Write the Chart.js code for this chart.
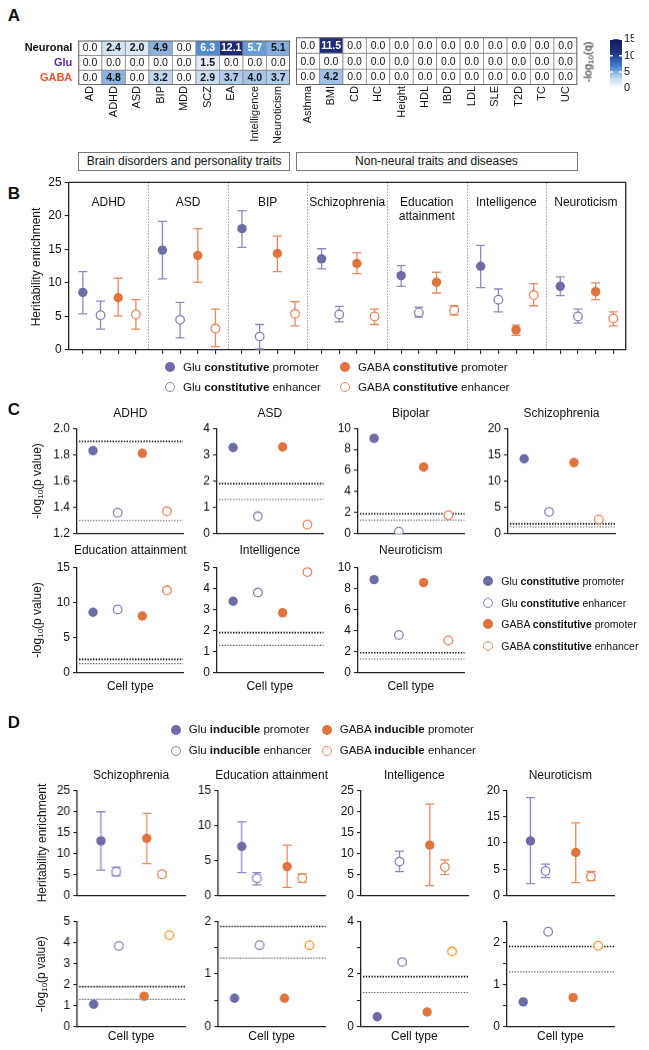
<!DOCTYPE html>
<html><head><meta charset="utf-8">
<script src="https://cdn.jsdelivr.net/npm/chart.js@4.4.1/dist/chart.umd.min.js"></script>
<style>
body{margin:0;width:649px;height:1050px;position:relative;background:#fff;font-family:'Liberation Sans',Arial,Helvetica,sans-serif;color:#111;overflow:hidden}
.t{position:absolute;white-space:nowrap;transform:translate(-50%,-50%);font-size:12px;line-height:1}
.lt{position:absolute;white-space:nowrap;transform:translate(0,-50%);font-size:12px;line-height:1}
.rot{position:absolute;white-space:nowrap;transform:translate(-50%,-50%) rotate(-90deg);font-size:12px;line-height:1}
.pl{position:absolute;font-weight:bold;font-size:17px;transform:translate(-50%,-50%);line-height:1}
.dot{position:absolute;border-radius:50%;transform:translate(-50%,-50%);box-sizing:border-box}
.gbox{position:absolute;border:1px solid #7a7a7a;box-sizing:border-box;font-size:12px;display:flex;align-items:center;justify-content:center;white-space:nowrap;background:#fff}
.sb{font-size:8px;position:relative;top:2px}
</style></head><body>
<script>
// ================= DATA =================
// Panel A heatmap (-log10 q)
const heatTraits = ['AD','ADHD','ASD','BIP','MDD','SCZ','EA','Intelligence','Neuroticism','Asthma','BMI','CD','HC','Height','HDL','IBD','LDL','SLE','T2D','TC','UC'];
const brainCount = 9;
const heatRows = ['Neuronal','Glu','GABA'];
const neuronalQ = [0.0,2.4,2.0,4.9,0.0,6.3,12.1,5.7,5.1, 0.0,11.5,0.0,0.0,0.0,0.0,0.0,0.0,0.0,0.0,0.0,0.0];
const gluQ      = [0.0,0.0,0.0,0.0,0.0,1.5,0.0,0.0,0.0, 0.0,0.0,0.0,0.0,0.0,0.0,0.0,0.0,0.0,0.0,0.0,0.0];
const gabaQ     = [0.0,4.8,0.0,3.2,0.0,2.9,3.7,4.0,3.7, 0.0,4.2,0.0,0.0,0.0,0.0,0.0,0.0,0.0,0.0,0.0,0.0];
const groupNames = ['Brain disorders and personality traits','Non-neural traits and diseases'];
const qTicks = [0,5,10,15];

// Panel B heritability enrichment (constitutive)
const bTraits = ['ADHD','ASD','BIP','Schizophrenia',['Education','attainment'],'Intelligence','Neuroticism'];
const bGluProm   = [8.6,14.9,18.1,13.6,11.1,12.5,9.5];
const bGluPromLo = [5.4,10.6,15.3,12.1,9.5,9.3,8.1];
const bGluPromHi = [11.7,19.2,20.8,15.1,12.6,15.6,10.9];
const bGluEnh    = [5.2,4.5,2.0,5.3,5.6,7.5,5.0];
const bGluEnhLo  = [3.1,1.8,0.15,4.2,4.9,5.7,4.0];
const bGluEnhHi  = [7.3,7.1,3.8,6.5,6.4,9.1,6.1];
const bGabaProm  = [7.8,14.1,14.4,12.9,10.1,3.0,8.7];
const bGabaPromLo= [5.1,10.1,11.7,11.4,8.5,2.2,7.5];
const bGabaPromHi= [10.7,18.1,17.0,14.5,11.6,3.7,10.0];
const bGabaEnh   = [5.3,3.2,5.4,5.0,5.9,8.2,4.7];
const bGabaEnhLo = [3.1,0.5,3.6,3.8,5.2,6.6,3.6];
const bGabaEnhHi = [7.5,6.1,7.2,6.1,6.6,9.9,5.7];

// Panel C -log10(p) (constitutive)
const cTraits = ['ADHD','ASD','Bipolar','Schizophrenia','Education attainment','Intelligence','Neuroticism'];
const cGluProm  = [1.83,3.27,9.05,14.2,8.6,3.39,8.82];
const cGluEnh   = [1.36,0.66,0.2,4.15,9.0,3.8,3.59];
const cGabaProm = [1.81,3.29,6.32,13.5,8.07,2.84,8.54];
const cGabaEnh  = [1.37,0.35,1.75,2.7,11.72,4.77,3.06];
const cYMin  = [1.2,0,0,0,0,0,0];
const cYMax  = [2.0,4,10,20,15,5,10];
const cYStep = [0.2,1,2,5,5,1,2];
const sigLines = [1.3,1.9];

// Panel D (inducible)
const dTraits = ['Schizophrenia','Education attainment','Intelligence','Neuroticism'];
const dGluProm   = [13.0,7.0,null,10.4];
const dGluPromLo = [6.1,3.3,null,2.3];
const dGluPromHi = [19.9,10.5,null,18.6];
const dGluEnh    = [5.7,2.5,8.1,4.7];
const dGluEnhLo  = [4.7,1.55,5.7,3.45];
const dGluEnhHi  = [6.8,3.3,10.6,6.0];
const dGabaProm  = [13.6,4.15,12.0,8.2];
const dGabaPromLo= [7.6,1.2,2.4,2.5];
const dGabaPromHi= [19.5,7.2,21.7,13.8];
const dGabaEnh   = [5.1,2.5,6.8,3.65];
const dGabaEnhLo = [4.5,1.9,5.0,2.9];
const dGabaEnhHi = [5.8,3.1,8.5,4.6];
const dTopMax = [25,15,25,20];
const dPGluProm  = [1.07,0.54,0.38,0.59];
const dPGluEnh   = [3.83,1.545,2.45,2.25];
const dPGabaProm = [1.45,0.54,0.56,0.69];
const dPGabaEnh  = [4.34,1.545,2.85,1.92];
const dPMax = [5,2,4,2.5];
const dPStep = [1,0.5,1,0.5];
const dPLabelStep = [1,1,2,1];

// ================= STYLE =================
const FONT = "'Liberation Sans', Arial, Helvetica, sans-serif";
const GLU='#6c6ca6', GLU_L='#8282bc', GABA='#e0743e', GABA_L='#e9865b', GABA_Y='#f39a2e';
const SERIES = [
  {cell:'Glu', kind:'promoter', filled:true,  color:GLU,    err:'#8a8ac2'},
  {cell:'Glu', kind:'enhancer', filled:false, color:GLU_L,  err:'#8a8ac2'},
  {cell:'GABA',kind:'promoter', filled:true,  color:GABA,   err:'#e88a60'},
  {cell:'GABA',kind:'enhancer', filled:false, color:GABA_L, err:'#e88a60'}
];
const rowColors = ['#111','#5b2a96','#f0532a'];
const qStops = [[0,'#ffffff'],[3,'#c6dbf2'],[5,'#86b0e0'],[6.5,'#4686d0'],[9,'#2b55a8'],[11,'#20307f'],[15,'#151a5e']];

function hex2rgb(h){return [1,3,5].map(i=>parseInt(h.substr(i,2),16));}
function qColor(v){
  for(let i=1;i<qStops.length;i++){
    if(v<=qStops[i][0]){
      const [v0,c0]=qStops[i-1],[v1,c1]=qStops[i];
      const f=(v-v0)/(v1-v0), a=hex2rgb(c0), b=hex2rgb(c1);
      return 'rgb('+a.map((x,k)=>Math.round(x+(b[k]-x)*f)).join(',')+')';
    }
  }
  return qStops[qStops.length-1][1];
}

Chart.defaults.font.family = FONT;
Chart.defaults.font.size = 12;
Chart.defaults.color = '#111';
Chart.defaults.animation = false;
Chart.defaults.events = [];
Chart.defaults.plugins.legend.display = false;
Chart.defaults.plugins.tooltip.enabled = false;

function popt(ch,id){const p=ch.config.options.plugins;return p&&p[id];}

const errPlugin={id:'errbars',beforeDatasetsDraw(ch){
  const c=ch.ctx,x=ch.scales.x,y=ch.scales.y;
  ch.data.datasets.forEach(ds=>{
    if(!ds.lo) return;
    c.save();c.strokeStyle=ds.errColor;c.lineWidth=1.3;
    ds.data.forEach((p,j)=>{
      if(!p||p.y==null||ds.lo[j]==null) return;
      const px=x.getPixelForValue(p.x),y1=y.getPixelForValue(ds.lo[j]),y2=y.getPixelForValue(ds.hi[j]);
      c.beginPath();c.moveTo(px,y1);c.lineTo(px,y2);
      c.moveTo(px-4.5,y1);c.lineTo(px+4.5,y1);c.moveTo(px-4.5,y2);c.lineTo(px+4.5,y2);c.stroke();
    });
    c.restore();
  });
}};
const sigPlugin={id:'sig',beforeDatasetsDraw(ch){
  const o=popt(ch,'sig'); if(!o||!o.lines) return;
  const c=ch.ctx,y=ch.scales.y,ca=ch.chartArea;
  c.save();
  o.lines.forEach((v,i)=>{
    const py=y.getPixelForValue(v);
    c.strokeStyle=i?'#111':'#666';c.lineWidth=i?1.6:1.1;c.setLineDash([1.4,1.4]);
    c.beginPath();c.moveTo(ca.left+2,py);c.lineTo(ca.right,py);c.stroke();
  });
  c.restore();
}};
const framePlugin={id:'frame',
  beforeDatasetsDraw(ch){
    const o=popt(ch,'frame'); if(!o||!o.titles) return;
    const c=ch.ctx,ca=ch.chartArea,x=ch.scales.x;
    c.save();c.strokeStyle='#9a9a9a';c.lineWidth=1;c.setLineDash([1.5,1.5]);
    for(let g=1;g<o.titles.length;g++){
      const px=Math.round(x.getPixelForValue(g*o.groupW))+0.5;
      c.beginPath();c.moveTo(px,ca.top);c.lineTo(px,ca.bottom);c.stroke();
    }
    c.restore();
  },
  afterDraw(ch){
    const o=popt(ch,'frame'); if(!o||!o.titles) return;
    const c=ch.ctx,ca=ch.chartArea,x=ch.scales.x;
    c.save();c.strokeStyle='#222';c.lineWidth=1.3;
    c.beginPath();c.moveTo(ca.left,ca.top);c.lineTo(ca.right,ca.top);c.lineTo(ca.right,ca.bottom);c.stroke();
    c.fillStyle='#111';c.font='12px '+FONT;c.textAlign='center';c.textBaseline='middle';
    o.titles.forEach((t,g)=>{
      const cx=x.getPixelForValue((g+0.5)*o.groupW);
      [].concat(t).forEach((ln,k)=>c.fillText(ln,cx,ca.top+20+k*14.5));
    });
    c.restore();
  }
};
const cellTextPlugin={id:'cellText',afterDatasetsDraw(ch){
  const o=popt(ch,'cellText'); if(!o||!o.on) return;
  const c=ch.ctx;
  c.save();
  c.strokeStyle='#6a6a6a';c.lineWidth=1;
  const ca=ch.chartArea;c.strokeRect(ca.left+0.5,ca.top+0.5,ca.right-ca.left-1,ca.bottom-ca.top-1);
  c.textAlign='center';c.textBaseline='middle';
  ch.data.datasets.forEach((ds,i)=>{
    ch.getDatasetMeta(i).data.forEach((el,j)=>{
      const v=ds.vals[j];
      c.font=(v>0?'bold ':'')+'10.5px '+FONT;
      c.fillStyle=v>5.5?'#fff':'#111';
      c.fillText(v.toFixed(1),el.x,(el.y+el.base)/2+0.5);
    });
  });
  c.restore();
}};
const cbPlugin={id:'cbMarks',afterDatasetsDraw(ch){
  const o=popt(ch,'cbMarks'); if(!o||!o.on) return;
  const c=ch.ctx,ca=ch.chartArea,y=ch.scales.y;
  c.save();c.strokeStyle='#fff';c.lineWidth=1.5;
  y.ticks.forEach(t=>{ if(t.value<=0) return; const py=y.getPixelForValue(t.value);
    c.beginPath();c.moveTo(ca.left,py);c.lineTo(ca.left+3,py);c.moveTo(ca.right-3,py);c.lineTo(ca.right,py);c.stroke();});
  c.restore();
}};
Chart.register(errPlugin,sigPlugin,framePlugin,cellTextPlugin,cbPlugin);

function mk(box,area,cfg){
  const [bx,by,bw,bh]=box;
  const div=document.createElement('div');
  div.style.cssText=`position:absolute;left:${bx}px;top:${by}px;width:${bw}px;height:${bh}px;`;
  const cv=document.createElement('canvas');cv.width=bw;cv.height=bh;cv.style.width=bw+'px';cv.style.height=bh+'px';
  div.appendChild(cv);document.body.appendChild(div);
  cfg.options=cfg.options||{};
  Object.assign(cfg.options,{responsive:false,maintainAspectRatio:false,animation:false});
  const P={left:0,top:0,right:0,bottom:0};
  cfg.options.layout={padding:{...P}};
  const ch=new Chart(cv,cfg);
  const tl=area[0]-bx,tt=area[1]-by,tr=area[2]-bx,tb=area[3]-by;
  for(let k=0;k<4;k++){
    const ca=ch.chartArea;
    P.left+=tl-ca.left;P.top+=tt-ca.top;P.right+=ca.right-tr;P.bottom+=ca.bottom-tb;
    ch.config.options.layout.padding={...P};
    ch.update('none');
  }
  return ch;
}
function txt(cls,x,y,html,extra){
  const d=document.createElement('div');d.className=cls;d.style.left=x+'px';d.style.top=y+'px';d.innerHTML=html;
  if(extra) Object.assign(d.style,extra);
  document.body.appendChild(d);return d;
}
function yAx(min,max,step,cb){
  const a={type:'linear',min,max,ticks:{stepSize:step,font:{size:12},color:'#111',padding:3,autoSkip:false},
    grid:{drawOnChartArea:false,tickLength:4,color:'#222',lineWidth:1.1},border:{color:'#222',width:1.3}};
  if(cb) a.ticks.callback=cb;
  return a;
}
function xPlain(min,max){return {type:'linear',min,max,ticks:{display:false},grid:{display:false},border:{color:'#222',width:1.3}};}
function ptDs(s,data,lo,hi,colorOverride){
  const st=SERIES[s],col=colorOverride||st.color;
  return {data,lo,hi,errColor:st.err,showLine:false,
    pointRadius:st.filled?4.7:4.3,pointHoverRadius:0,
    pointBackgroundColor:st.filled?col:'#fff',pointBorderColor:col,pointBorderWidth:st.filled?0:1.3};
}
function legendItem(cx,cy,s,html,fs){
  const st=SERIES[s],col=st.color;
  const d=document.createElement('div');d.className='dot';
  d.style.left=cx+'px';d.style.top=cy+'px';d.style.width='10px';d.style.height='10px';
  if(st.filled){d.style.background=col;}
  else{d.style.background='#fff';d.style.border='1.3px solid '+col;}
  document.body.appendChild(d);
  txt('lt',cx+13,cy,html,{fontSize:fs+'px'});
}
const logLabel=(q)=>`-log<span class="sb">10</span>(${q})`;

// ================= PANEL A =================
txt('pl',14,15,'A');
function heatChart(box,area,from,to,showRows){
  const labels=heatTraits.slice(from,to);
  const rowVals=[neuronalQ,gluQ,gabaQ].map(a=>a.slice(from,to));
  return mk(box,area,{type:'bar',
    data:{labels,datasets:rowVals.map((vals,r)=>({label:heatRows[r],data:vals.map(()=>[r,r+1]),vals,
      backgroundColor:vals.map(qColor),borderColor:'#8c8c8c',borderWidth:0.8,borderSkipped:false,
      grouped:false,barPercentage:1,categoryPercentage:1}))},
    options:{plugins:{cellText:{on:true}},scales:{
      x:{ticks:{maxRotation:90,minRotation:90,autoSkip:false,font:{size:11},color:'#111',padding:1},grid:{display:false,drawTicks:false},border:{display:false}},
      y:{type:'linear',min:0,max:3,reverse:true,display:showRows,
        afterBuildTicks:s=>{s.ticks=heatRows.map((_,i)=>({value:i+0.5}));},
        ticks:{callback:v=>heatRows[Math.floor(v)],color:c=>rowColors[c.index],font:{size:11,weight:'bold'},padding:6},
        grid:{display:false,drawTicks:false},border:{display:false}}
    }}});
}
heatChart([0,28,300,124],[78.3,37.3,290,85],0,brainCount,true);
heatChart([290,28,300,124],[296,37.3,577.3,85],brainCount,heatTraits.length,false);
// colour bar
mk([596,25,52,80],[610,39.3,621.7,88.3],{type:'bar',
  data:{labels:[''],datasets:[{data:[[qTicks[0],qTicks[qTicks.length-1]]],borderWidth:0,barPercentage:1,categoryPercentage:1,
    backgroundColor:c=>{const ch=c.chart,y=ch.scales.y;if(!y||!ch.chartArea) return '#ccc';
      const top=qTicks[qTicks.length-1];
      const g=ch.ctx.createLinearGradient(0,y.getPixelForValue(0),0,y.getPixelForValue(top));
      qStops.forEach(([v,col])=>g.addColorStop(v/top,col));return g;}}]},
  options:{plugins:{cbMarks:{on:true}},scales:{x:{display:false},
    y:{position:'right',min:qTicks[0],max:qTicks[qTicks.length-1],afterBuildTicks:s=>{s.ticks=qTicks.map(v=>({value:v}));},
      ticks:{font:{size:11},padding:2,color:'#111'},grid:{display:false,drawTicks:false,tickLength:0},border:{display:false}}}}});
txt('rot',588,62,logLabel('q'),{fontSize:'11px'});
// group boxes
const gb1=txt('gbox',78.3,151.7,groupNames[0]);Object.assign(gb1.style,{width:'211.7px',height:'19px'});
const gb2=txt('gbox',295.5,151.7,groupNames[1]);Object.assign(gb2.style,{width:'282px',height:'19px'});

// ================= PANEL B =================
txt('pl',14,193,'B');
const bGroupW=4.5, bOff=0.8;
const bSets=[[bGluProm,bGluPromLo,bGluPromHi],[bGluEnh,bGluEnhLo,bGluEnhHi],[bGabaProm,bGabaPromLo,bGabaPromHi],[bGabaEnh,bGabaEnhLo,bGabaEnhHi]];
const bPos=[];bTraits.forEach((_,g)=>SERIES.forEach((_,s)=>bPos.push(g*bGroupW+bOff+s)));
mk([0,170,645,200],[68.7,183.3,625.7,350],{type:'scatter',
  data:{datasets:bSets.map(([v,lo,hi],s)=>ptDs(s,v.map((y,g)=>({x:g*bGroupW+bOff+s,y})),lo,hi))},
  options:{plugins:{frame:{titles:bTraits,groupW:bGroupW}},scales:{
    x:{type:'linear',min:0,max:bTraits.length*bGroupW,afterBuildTicks:s=>{s.ticks=bPos.map(v=>({value:v}));},
      ticks:{callback:()=>'',autoSkip:false,padding:0},grid:{drawOnChartArea:false,tickLength:4,color:'#222',lineWidth:1.1},border:{color:'#222',width:1.3}},
    y:yAx(0,25,5)}}});
txt('rot',36,266.7,'Heritability enrichment');
legendItem(170,366.5,0,'Glu <b>constitutive</b> promoter',11.6);
legendItem(345,366.5,2,'GABA <b>constitutive</b> promoter',11.6);
legendItem(170,386.7,1,'Glu <b>constitutive</b> enhancer',11.6);
legendItem(345,386.7,3,'GABA <b>constitutive</b> enhancer',11.6);

// ================= PANEL C =================
txt('pl',14,409.3,'C');
const cCols=[[77.3,183.3],[216.5,323],[357.5,464],[508,615]];
const cRows=[[428.3,534.3],[566.7,673.3]];
const cTitleY=[413.3,550];
const cVals=[cGluProm,cGluEnh,cGabaProm,cGabaEnh];
cTraits.forEach((t,k)=>{
  const row=k<4?0:1,col=k<4?k:k-4,ax=cCols[col],ay=cRows[row];
  mk([ax[0]-45,ay[0]-10,ax[1]-ax[0]+55,ay[1]-ay[0]+20],[ax[0],ay[0],ax[1],ay[1]],{type:'scatter',
    data:{datasets:SERIES.map((_,s)=>ptDs(s,[{x:s,y:cVals[s][k]}]))},
    options:{plugins:{sig:{lines:sigLines}},scales:{x:xPlain(-0.65,3.65),
      y:yAx(cYMin[k],cYMax[k],cYStep[k],cYStep[k]<1?(v=>v.toFixed(1)):null)}}});
  txt('t',(ax[0]+ax[1])/2,cTitleY[row],t);
  if(row===1) txt('t',(ax[0]+ax[1])/2,685.5,'Cell type');
});
txt('rot',37,481.3,logLabel('p value'));
txt('rot',37,620,logLabel('p value'));
[0,1,2,3].forEach((s,i)=>legendItem(488.3,[581,602.5,624,645.5][i],s,`${SERIES[s].cell} <b>constitutive</b> ${SERIES[s].kind}`,10.5));

// ================= PANEL D =================
txt('pl',14,722.3,'D');
legendItem(175.7,730,0,'Glu <b>inducible</b> promoter',11.5);
legendItem(326.7,730,2,'GABA <b>inducible</b> promoter',11.5);
legendItem(175.7,750.7,1,'Glu <b>inducible</b> enhancer',11.5);
legendItem(326.7,750.7,3,'GABA <b>inducible</b> enhancer',11.5);
const dCols=[[77.3,185],[218.3,325],[360.7,468],[506.7,614]];
const dTopY=[790,896], dBotY=[920.5,1026.7];
const dTopX=[0,1,3,4];
const dTopSets=[[dGluProm,dGluPromLo,dGluPromHi],[dGluEnh,dGluEnhLo,dGluEnhHi],[dGabaProm,dGabaPromLo,dGabaPromHi],[dGabaEnh,dGabaEnhLo,dGabaEnhHi]];
const dBotSets=[dPGluProm,dPGluEnh,dPGabaProm,dPGabaEnh];
dTraits.forEach((t,k)=>{
  const ax=dCols[k];
  mk([ax[0]-45,dTopY[0]-10,ax[1]-ax[0]+55,dTopY[1]-dTopY[0]+20],[ax[0],dTopY[0],ax[1],dTopY[1]],{type:'scatter',
    data:{datasets:dTopSets.map(([v,lo,hi],s)=>ptDs(s,[{x:dTopX[s],y:v[k]}],[lo[k]],[hi[k]]))},
    options:{scales:{x:xPlain(-1.55,5.55),y:yAx(0,dTopMax[k],5)}}});
  mk([ax[0]-45,dBotY[0]-10,ax[1]-ax[0]+55,dBotY[1]-dBotY[0]+20],[ax[0],dBotY[0],ax[1],dBotY[1]],{type:'scatter',
    data:{datasets:dBotSets.map((v,s)=>ptDs(s,[{x:s,y:v[k]}],null,null,s===3?GABA_Y:null))},
    options:{plugins:{sig:{lines:sigLines}},scales:{x:xPlain(-0.65,3.65),
      y:yAx(0,dPMax[k],dPStep[k],v=>(Math.abs(v/dPLabelStep[k]-Math.round(v/dPLabelStep[k]))<1e-6)?v:'')}}});
  txt('t',(ax[0]+ax[1])/2,775,t);
  txt('t',(ax[0]+ax[1])/2,1036,'Cell type');
});
txt('rot',41.5,843,'Heritability enrichment');
txt('rot',41,973.8,logLabel('p value'));
</script>
</body></html>
